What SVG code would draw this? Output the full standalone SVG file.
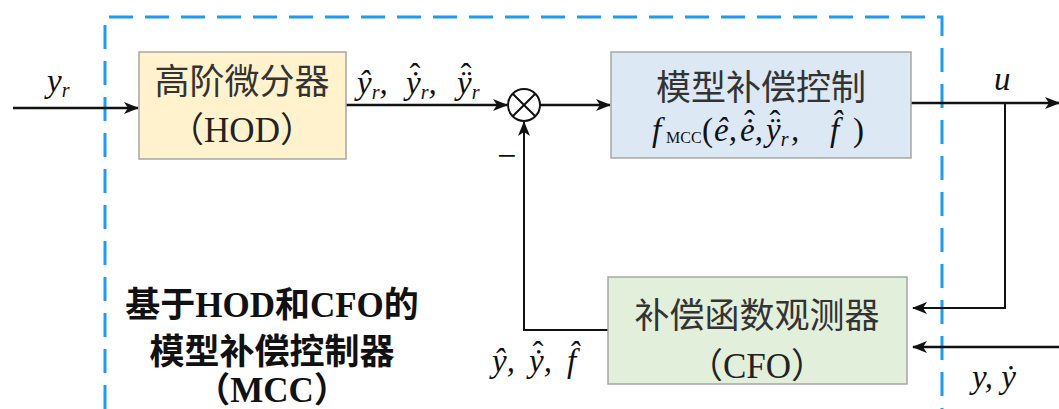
<svg xmlns="http://www.w3.org/2000/svg" width="1059" height="409" viewBox="0 0 1059 409">
<style>
.box{stroke:#a6a6a6;stroke-width:1.5}
.cjk{font-family:"Noto Sans CJK SC","Liberation Serif",sans-serif;font-size:35px;fill:#333;text-anchor:middle}
.lat{font-family:"Liberation Serif","Noto Sans CJK SC",serif;font-size:35px;fill:#222;text-anchor:middle}
.mi{font-family:"Liberation Serif",serif;font-style:italic;font-size:33px;fill:#111}
.sub{font-size:20px}
.up{font-style:normal}
.wire{fill:none;stroke:#111;stroke-width:2.5}
.thin{fill:none;stroke:#111;stroke-width:2}
.bold{font-weight:bold;fill:#111}
</style>
<defs>
<marker id="ah" viewBox="0 0 15 12" refX="14" refY="6" markerWidth="15" markerHeight="12" markerUnits="userSpaceOnUse" orient="auto">
<path d="M0,0 L15,6 L0,12 L4,6 z" fill="#111"/>
</marker>
</defs>
<rect width="1059" height="409" fill="#fff"/>
<path id="mcc-frame" d="M105,409 V17 H942 V409" fill="none" stroke="#1e9cf0" stroke-width="3" stroke-dasharray="24 12"/>

<g id="connectors">
<line class="wire" x1="13" y1="108" x2="138" y2="108" marker-end="url(#ah)"/>
<line class="wire" x1="346" y1="105" x2="507" y2="105" marker-end="url(#ah)"/>
<line class="wire" x1="540" y1="105" x2="610" y2="105" marker-end="url(#ah)"/>
<line class="wire" x1="911" y1="103" x2="1059" y2="103" marker-end="url(#ah)"/>
<polyline class="thin" points="1005,103 1005,308 913,308" marker-end="url(#ah)"/>
<line class="wire" x1="1059" y1="347" x2="913" y2="347" marker-end="url(#ah)"/>
<polyline class="thin" points="608,330 524,330 524,122" marker-end="url(#ah)"/>
</g>

<g id="hod">
<rect class="box" x="139" y="52" width="207" height="107" fill="#fff2cc"/>
<text class="cjk" x="242" y="94">高阶微分器</text>
<text class="lat" x="242" y="142">（HOD）</text>
</g>

<g id="sum">
<circle cx="524" cy="105" r="16" fill="#fff" stroke="#111" stroke-width="2"/>
<path d="M512.7,93.7 L535.3,116.3 M535.3,93.7 L512.7,116.3" stroke="#111" stroke-width="2"/>
</g>

<g id="mcc">
<rect class="box" x="611" y="52" width="300" height="106" fill="#dce8f4"/>
<text class="cjk" x="761" y="100">模型补偿控制</text>
<text class="mi" x="652" y="141">f<tspan class="up" font-size="16" x="666" y="143">MCC</tspan><tspan class="up" x="702" y="141">(</tspan><tspan x="714">ê,</tspan><tspan x="740">ė,</tspan><tspan x="766">ÿ</tspan><tspan class="sub" dy="5">r</tspan><tspan x="791" dy="-5">,</tspan><tspan x="830">f̂</tspan><tspan class="up" x="853">)</tspan><tspan class="up" x="744" y="134">ˆ</tspan><tspan class="up" x="769.5" y="134">ˆ</tspan></text>
</g>

<g id="cfo">
<rect class="box" x="608" y="277" width="299" height="107" fill="#e2efda"/>
<text class="cjk" x="757" y="328">补偿函数观测器</text>
<text class="lat" x="757" y="378">（CFO）</text>
</g>

<g id="labels">
<text class="mi" x="47" y="92">y<tspan class="sub" dy="5">r</tspan></text>
<text class="mi" x="357" y="94">ŷ<tspan class="sub" dy="5">r</tspan><tspan dy="-5">,</tspan><tspan x="406">ẏ</tspan><tspan class="sub" dy="5">r</tspan><tspan dy="-5">,</tspan><tspan x="457">ÿ</tspan><tspan class="sub" dy="5">r</tspan><tspan class="up" x="409.5" y="87">ˆ</tspan><tspan class="up" x="460.5" y="87">ˆ</tspan></text>
<text class="mi" x="994" y="90">u</text>
<text class="mi" x="492" y="372">ŷ,<tspan x="529">ẏ,</tspan><tspan x="567">f̂</tspan><tspan class="up" x="532.5" y="365">ˆ</tspan></text>
<text class="mi" x="972" y="388">y, ẏ</text>
<text x="497" y="167" font-family="Liberation Serif,serif" font-size="34" fill="#111">−</text>
</g>

<g id="caption">
<text class="lat bold" x="272" y="317" font-size="36">基于HOD和CFO的</text>
<text class="lat bold" x="272" y="364" font-size="36">模型补偿控制器</text>
<text class="lat bold" x="272" y="402" font-size="34">（MCC）</text>
</g>
</svg>
